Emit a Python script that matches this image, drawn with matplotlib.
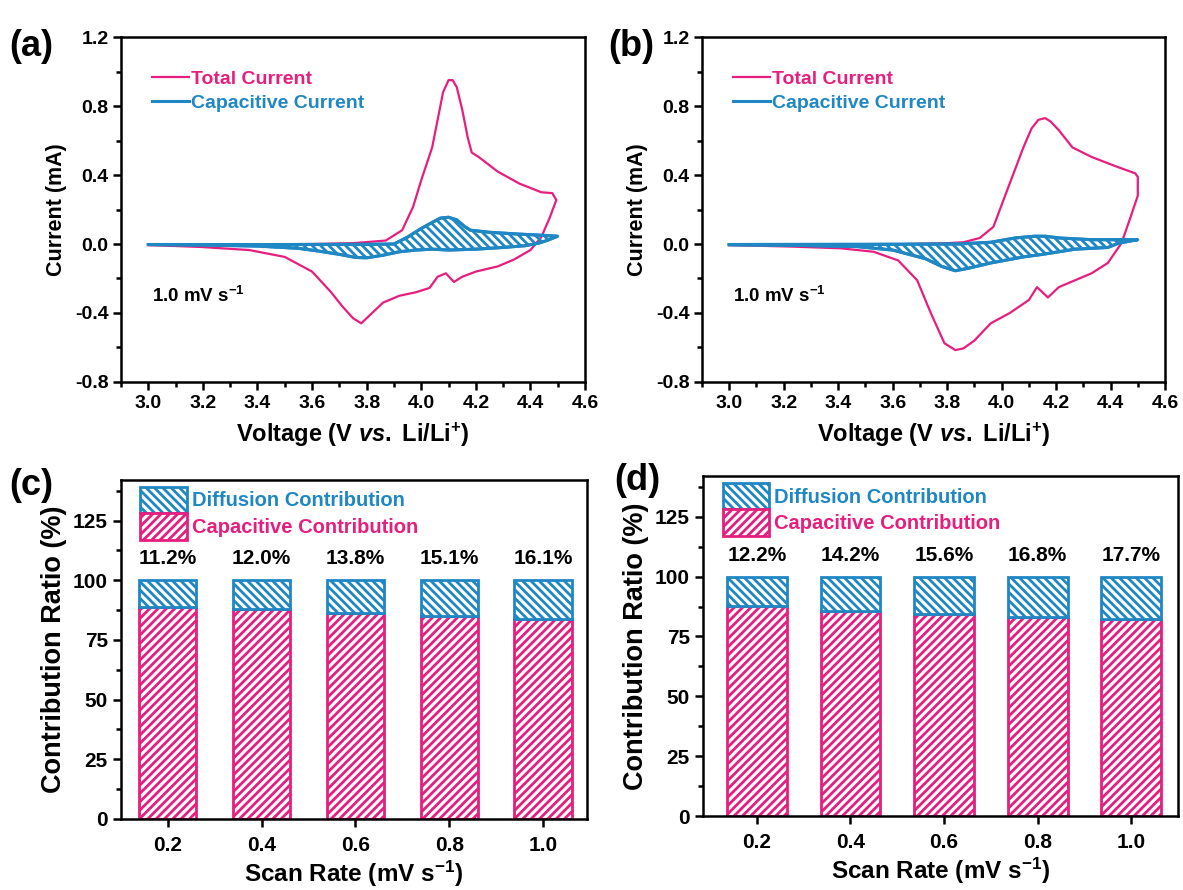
import matplotlib
matplotlib.use('Agg')
import matplotlib.pyplot as plt
from matplotlib.patches import Patch
from matplotlib.ticker import MultipleLocator, AutoMinorLocator

plt.rcParams['font.family'] = ['Liberation Sans', 'DejaVu Sans']
plt.rcParams['font.weight'] = 'bold'
plt.rcParams['mathtext.fontset'] = 'custom'
plt.rcParams['mathtext.rm'] = 'Liberation Sans:bold'
plt.rcParams['mathtext.bf'] = 'Liberation Sans:bold'
plt.rcParams['mathtext.it'] = 'Liberation Sans:bold:italic'
plt.rcParams['axes.unicode_minus'] = False
plt.rcParams['hatch.linewidth'] = 2.0

PINK = '#E61E7E'
BLUE = '#1F87C4'

# ---- panel (a) CV, total current ----
a_tot_fwd_v = [3.0, 3.2, 3.4, 3.6, 3.75, 3.87, 3.93, 3.97, 4.0, 4.04, 4.06, 4.08, 4.10, 4.115,
               4.13, 4.15, 4.17, 4.185, 4.21, 4.28, 4.36, 4.44, 4.48, 4.495]
a_tot_fwd_i = [-0.006, -0.004, -0.002, 0.0, 0.005, 0.02, 0.08, 0.215, 0.37, 0.56, 0.72, 0.88, 0.95, 0.95,
               0.91, 0.78, 0.62, 0.53, 0.505, 0.42, 0.35, 0.30, 0.295, 0.255]
a_tot_rev_v = [4.495, 4.47, 4.44, 4.40, 4.34, 4.28, 4.20, 4.15, 4.12, 4.09, 4.06, 4.03, 3.98,
               3.92, 3.86, 3.82, 3.78, 3.75, 3.71, 3.67, 3.60, 3.50, 3.37, 3.19, 3.0]
a_tot_rev_i = [0.255, 0.15, 0.04, -0.035, -0.09, -0.13, -0.16, -0.19, -0.22, -0.17, -0.19, -0.255, -0.28,
               -0.30, -0.34, -0.40, -0.46, -0.43, -0.36, -0.28, -0.16, -0.075, -0.035, -0.017, -0.006]
# ---- panel (a) CV, capacitive current ----
a_cap_fwd_v = [3.0, 3.5, 3.8, 3.9, 3.95, 4.0, 4.04, 4.07, 4.10, 4.13, 4.16, 4.18, 4.25, 4.35, 4.45, 4.50]
a_cap_fwd_i = [-0.003, -0.003, -0.002, 0.0, 0.04, 0.09, 0.125, 0.15, 0.155, 0.14, 0.10, 0.08, 0.068, 0.058,
               0.05, 0.045]
a_cap_rev_v = [4.50, 4.46, 4.43, 4.38, 4.30, 4.20, 4.10, 4.04, 3.98, 3.92, 3.86, 3.80, 3.76, 3.70,
               3.62, 3.55, 3.40, 3.20, 3.0]
a_cap_rev_i = [0.045, 0.02, 0.005, -0.01, -0.02, -0.03, -0.035, -0.03, -0.035, -0.045, -0.065, -0.08,
               -0.078, -0.06, -0.04, -0.025, -0.012, -0.006, -0.003]

# ---- panel (b) CV, total current ----
b_tot_fwd_v = [3.0, 3.3, 3.6, 3.8, 3.86, 3.92, 3.97, 4.02, 4.08, 4.11, 4.135, 4.16, 4.18, 4.21, 4.26,
               4.33, 4.42, 4.49, 4.50]
b_tot_fwd_i = [-0.006, -0.004, -0.002, 0.005, 0.01, 0.035, 0.10, 0.31, 0.56, 0.67, 0.72, 0.73, 0.71, 0.66,
               0.56, 0.505, 0.45, 0.41, 0.39]
b_tot_rev_v = [4.50, 4.50, 4.47, 4.44, 4.39, 4.33, 4.21, 4.17, 4.13, 4.10, 4.03, 3.96, 3.90, 3.86, 3.83,
               3.79, 3.74, 3.69, 3.62, 3.53, 3.41, 3.23, 3.0]
b_tot_rev_i = [0.39, 0.28, 0.14, 0.005, -0.11, -0.17, -0.25, -0.31, -0.25, -0.325, -0.40, -0.46, -0.56,
               -0.605, -0.615, -0.575, -0.40, -0.21, -0.095, -0.045, -0.025, -0.015, -0.006]
# ---- panel (b) CV, capacitive current ----
b_cap_fwd_v = [3.0, 3.5, 3.84, 3.96, 4.05, 4.12, 4.16, 4.21, 4.33, 4.45, 4.50]
b_cap_fwd_i = [-0.003, -0.002, 0.0, 0.01, 0.035, 0.045, 0.045, 0.035, 0.025, 0.025, 0.025]
b_cap_rev_v = [4.50, 4.43, 4.39, 4.27, 4.21, 4.15, 4.08, 3.96, 3.88, 3.83, 3.78, 3.72, 3.60, 3.47,
               3.25, 3.0]
b_cap_rev_i = [0.025, 0.005, -0.02, -0.03, -0.045, -0.06, -0.075, -0.11, -0.14, -0.155, -0.13, -0.085,
               -0.035, -0.015, -0.008, -0.004]

# ---- panels (c), (d) contribution bars ----
scan_rates = [0.2, 0.4, 0.6, 0.8, 1.0]
scan_labels = ['0.2', '0.4', '0.6', '0.8', '1.0']
c_diffusion = [11.2, 12.0, 13.8, 15.1, 16.1]
d_diffusion = [12.2, 14.2, 15.6, 16.8, 17.7]

fig = plt.figure(figsize=(11.83, 8.9), dpi=100)
ax_a = fig.add_axes([0.1023, 0.5708, 0.3922, 0.3876])
ax_b = fig.add_axes([0.5934, 0.5708, 0.3914, 0.3876])
ax_c = fig.add_axes([0.1023, 0.0798, 0.3939, 0.3809])
ax_d = fig.add_axes([0.5943, 0.0831, 0.4015, 0.3820])


def style_axes(ax, size):
    for sp in ax.spines.values():
        sp.set_linewidth(1.8)
    ax.tick_params(which='both', direction='out', width=1.8, labelsize=size, top=False, right=False)
    ax.tick_params(which='major', length=6)
    ax.tick_params(which='minor', length=3.5)


def draw_cv(ax, tfv, tfi, trv, tri, cfv, cfi, crv, cri):
    ax.plot(tfv + trv, tfi + tri, color=PINK, lw=1.6, label='Total Current', zorder=2)
    ax.fill(cfv + crv, cfi + cri, facecolor='none', edgecolor=BLUE, hatch='\\\\\\\\',
            lw=2.2, zorder=3)
    ax.plot(cfv + crv, cfi + cri, color=BLUE, lw=2.2, label='Capacitive Current', zorder=4)
    ax.set_xlim(2.9, 4.6)
    ax.set_ylim(-0.8, 1.2)
    ax.xaxis.set_minor_locator(MultipleLocator(0.1))
    ax.yaxis.set_major_locator(MultipleLocator(0.4))
    ax.yaxis.set_minor_locator(MultipleLocator(0.2))
    ax.set_xticks([3.0, 3.2, 3.4, 3.6, 3.8, 4.0, 4.2, 4.4, 4.6])
    ax.set_xlabel('Voltage (V $\\mathit{vs.}$ Li/Li$^{+}$)', fontsize=17, fontweight='bold', labelpad=6)
    ax.set_ylabel('Current (mA)', fontsize=15.5, fontweight='bold', labelpad=6)
    style_axes(ax, 14)
    ax.tick_params(axis='y', pad=3)
    ax.legend(loc='upper left', bbox_to_anchor=(0.03, 0.955), frameon=False, fontsize=14,
              handlelength=1.9, handletextpad=0.1, labelspacing=0.35, labelcolor='linecolor')
    ax.text(0.067, 0.25, '1.0 mV s$^{-1}$', transform=ax.transAxes, fontsize=13.5,
            fontweight='bold', va='center')


def draw_bars(ax, diffusion, width):
    capacitive = [100 - d for d in diffusion]
    ax.bar(scan_rates, capacitive, width=width, facecolor='white', edgecolor=PINK,
           hatch='////', lw=2.0)
    ax.bar(scan_rates, diffusion, width=width, bottom=capacitive, facecolor='white',
           edgecolor=BLUE, hatch='\\\\\\\\', lw=2.0)
    for x, d in zip(scan_rates, diffusion):
        ax.text(x, 105, '%.1f%%' % d, ha='center', va='bottom', fontsize=15, fontweight='bold')
    ax.set_ylim(0, 142)
    ax.set_xticks(scan_rates)
    ax.set_xticklabels(scan_labels)
    ax.yaxis.set_major_locator(MultipleLocator(25))
    ax.yaxis.set_minor_locator(AutoMinorLocator(2))
    ax.set_xlabel('Scan Rate (mV s$^{-1}$)', fontsize=17.5, fontweight='bold', labelpad=3)
    ax.set_ylabel('Contribution Ratio (%)', fontsize=19.5, fontweight='bold', labelpad=4)
    style_axes(ax, 15)
    ax.tick_params(axis='x', pad=6)
    handles = [Patch(facecolor='white', edgecolor=BLUE, hatch='\\\\\\\\', lw=2.0),
               Patch(facecolor='white', edgecolor=PINK, hatch='////', lw=2.0)]
    leg = ax.legend(handles, ['Diffusion Contribution', 'Capacitive Contribution'],
                    loc='upper left', bbox_to_anchor=(0.02, 1.01), frameon=False, fontsize=14.5,
                    handlelength=2.3, handleheight=1.65, handletextpad=0.25, labelspacing=0.0,
                    borderpad=0.0)
    leg.get_texts()[0].set_color(BLUE)
    leg.get_texts()[1].set_color(PINK)


draw_cv(ax_a, a_tot_fwd_v, a_tot_fwd_i, a_tot_rev_v, a_tot_rev_i,
        a_cap_fwd_v, a_cap_fwd_i, a_cap_rev_v, a_cap_rev_i)
draw_cv(ax_b, b_tot_fwd_v, b_tot_fwd_i, b_tot_rev_v, b_tot_rev_i,
        b_cap_fwd_v, b_cap_fwd_i, b_cap_rev_v, b_cap_rev_i)
draw_bars(ax_c, c_diffusion, 0.122)
ax_c.set_xlim(0.1, 1.094)
draw_bars(ax_d, d_diffusion, 0.128)
ax_d.set_xlim(0.085, 1.1)

fig.text(0.008, 0.948, '(a)', fontsize=26, fontweight='bold', va='center')
fig.text(0.514, 0.948, '(b)', fontsize=26, fontweight='bold', va='center')
fig.text(0.008, 0.455, '(c)', fontsize=26, fontweight='bold', va='center')
fig.text(0.519, 0.46, '(d)', fontsize=26, fontweight='bold', va='center')

fig.savefig('out.png', dpi=100)
